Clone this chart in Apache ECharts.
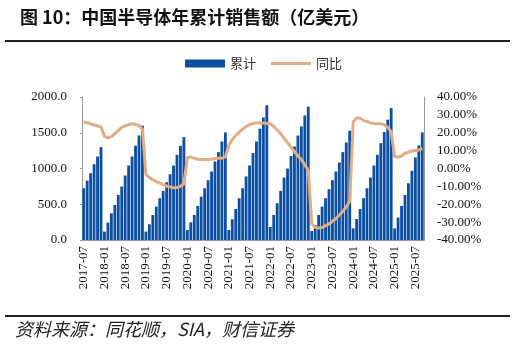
<!DOCTYPE html>
<html>
<head>
<meta charset="utf-8">
<script src="https://cdn.jsdelivr.net/npm/echarts@6/dist/echarts.min.js"></script>
<style>
html,body{margin:0;padding:0;background:#fff;}
#main{width:515px;height:348px;}
</style>
</head>
<body>
<div id="main"></div>
<script>
// 月份 2017-07 ~ 2025-09
var categories = [];
for (var y = 2017; y <= 2025; y++) {
    for (var m = 1; m <= 12; m++) {
        if ((y == 2017 && m < 7) || (y == 2025 && m > 9)) continue;
        categories.push(y + '-' + (m < 10 ? '0' + m : m));
    }
}

// 累计销售额（亿美元）
var sum2017 = [724, 831, 934, 1061, 1168, 1299];
var sum2018 = [117, 243, 374, 490, 631, 748, 902, 1042, 1168, 1318, 1462, 1598];
var sum2019 = [117, 220, 350, 467, 584, 687, 808, 920, 1042, 1191, 1317, 1439];
var sum2020 = [140, 248, 350, 477, 607, 724, 836, 958, 1098, 1229, 1378, 1504];
var sum2021 = [140, 290, 434, 584, 724, 888, 1042, 1215, 1378, 1556, 1714, 1883];
var sum2022 = [182, 350, 514, 687, 873, 1000, 1175, 1308, 1462, 1588, 1742, 1864];
var sum2023 = [126, 210, 350, 467, 584, 710, 836, 958, 1084, 1229, 1364, 1528];
var sum2024 = [163, 294, 434, 584, 724, 873, 1042, 1191, 1355, 1509, 1682, 1845];
var sum2025 = [163, 313, 477, 631, 794, 967, 1154, 1322, 1504];

// 同比（%）
var yoy2017 = [26.0, 25.5, 25.0, 24.3, 23.8, 23.3];
var yoy2018 = [18.0, 17.2, 17.8, 19.5, 21.2, 23.0, 23.8, 24.5, 25.0, 24.7, 24.0, 22.0];
var yoy2019 = [-3.5, -5.0, -6.3, -7.3, -8.2, -9.0, -9.8, -10.3, -10.8, -10.6, -10.0, -8.5];
var yoy2020 = [6.0, 6.5, 5.8, 5.2, 5.0, 5.0, 5.0, 5.2, 5.6, 5.8, 5.8, 6.5];
var yoy2021 = [13.0, 16.0, 18.5, 20.2, 22.0, 23.5, 24.5, 25.2, 25.5, 25.6, 25.5, 25.3];
var yoy2022 = [25.0, 23.5, 21.5, 19.5, 17.0, 14.5, 12.0, 9.5, 7.0, 5.0, 2.0, -1.0];
var yoy2023 = [-31.0, -33.0, -33.3, -33.0, -32.0, -31.0, -29.5, -28.0, -26.0, -24.0, -21.5, -18.3];
var yoy2024 = [26.0, 28.3, 28.2, 26.8, 26.3, 25.5, 25.2, 25.0, 25.0, 24.5, 23.0, 20.5];
var yoy2025 = [6.8, 6.3, 7.0, 8.5, 9.2, 9.8, 10.1, 10.4, 11.2];

var leftTicks = [0, 500, 1000, 1500, 2000];
var rightTicks = [-40, -30, -20, -10, 0, 10, 20, 30, 40];

var sumData = [].concat(sum2017, sum2018, sum2019, sum2020, sum2021, sum2022, sum2023, sum2024, sum2025);
var yoyData = [].concat(yoy2017, yoy2018, yoy2019, yoy2020, yoy2021, yoy2022, yoy2023, yoy2024, yoy2025);

var serif = 'Liberation Serif';
var cjk = 'Noto Sans CJK SC';

var myChart = echarts.init(document.getElementById('main'));
var option = {
    animation: false,
    title: {
        text: '图 10：中国半导体年累计销售额（亿美元）',
        left: 15,
        top: 3,
        textStyle: {fontFamily: cjk, fontSize: 18, fontWeight: 'bold', color: '#111'}
    },
    legend: {
        left: 180,
        top: 52,
        itemWidth: 40,
        itemHeight: 8,
        itemGap: 15,
        textStyle: {fontFamily: cjk, fontSize: 13, color: '#333'},
        data: [
            {name: '累计', icon: 'rect'},
            {name: '同比', icon: 'path://M0,0L40,0L40,3L0,3Z'}
        ]
    },
    grid: {left: 82, right: 91, top: 97, bottom: 108},
    xAxis: [{
        type: 'category',
        data: categories,
        axisLine: {lineStyle: {color: '#999'}},
        axisTick: {interval: 0, length: 2, alignWithLabel: true, lineStyle: {color: '#999'}},
        axisLabel: {interval: 5, rotate: 90, margin: 6, fontFamily: serif, fontSize: 13, color: '#111'}
    }, {
        type: 'category',
        data: categories,
        position: 'bottom',
        axisLine: {show: false},
        axisTick: {interval: 5, length: 5, alignWithLabel: true, lineStyle: {color: '#999'}},
        axisLabel: {show: false}
    }],
    yAxis: [{
        type: 'value',
        min: leftTicks[0],
        max: leftTicks[leftTicks.length - 1],
        interval: 500,
        splitLine: {show: false},
        axisLine: {show: true, lineStyle: {color: '#999'}},
        axisTick: {show: true, length: 2, lineStyle: {color: '#999'}},
        axisLabel: {
            margin: 15, fontFamily: serif, fontSize: 13, color: '#111',
            formatter: function (v) { return v.toFixed(1); }
        }
    }, {
        type: 'value',
        min: rightTicks[0],
        max: rightTicks[rightTicks.length - 1],
        interval: 10,
        splitLine: {show: false},
        axisLine: {show: true, lineStyle: {color: '#999'}},
        axisTick: {show: false},
        axisLabel: {
            margin: 13, fontFamily: serif, fontSize: 13, color: '#111',
            formatter: function (v) { return v.toFixed(2) + '%'; }
        }
    }],
    series: [{
        name: '累计',
        type: 'bar',
        data: sumData,
        barCategoryGap: '18%',
        itemStyle: {color: '#0b4fa5'}
    }, {
        name: '同比',
        type: 'line',
        yAxisIndex: 1,
        data: yoyData,
        symbol: 'none',
        lineStyle: {color: '#e2ad84', width: 3, join: 'round'},
        itemStyle: {color: '#e2ad84'}
    }],
    graphic: [
        {type: 'rect', shape: {x: 5, y: 40, width: 505, height: 2}, style: {fill: '#222'}},
        {type: 'rect', shape: {x: 5, y: 315, width: 505, height: 2}, style: {fill: '#222'}},
        {type: 'text', left: 15, top: 320, style: {
            text: '资料来源：同花顺，SIA，财信证券',
            font: 'italic 18px "Noto Sans CJK SC"', fill: '#222'
        }}
    ]
};
myChart.setOption(option);
</script>
</body>
</html>
